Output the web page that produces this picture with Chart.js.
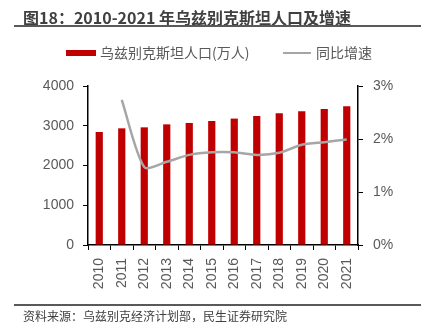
<!DOCTYPE html>
<html>
<head>
<meta charset="utf-8">
<script src="https://cdn.jsdelivr.net/npm/chart.js@4"></script>
<style>
body{margin:0;background:#fff;}
#wrap{position:relative;width:427px;height:334px;overflow:hidden;font-family:"Noto Sans CJK SC",sans-serif;}
#chart{position:absolute;left:0;top:0;}
.title{position:absolute;left:23px;top:6px;font-size:16px;font-weight:bold;color:#404040;white-space:nowrap;line-height:22px;}
.rule{position:absolute;left:14px;width:407px;height:1.5px;background:#595959;}
.legend{position:absolute;top:43px;font-size:14px;color:#595959;white-space:nowrap;line-height:18px;}
.src{position:absolute;left:23px;top:307px;font-size:12px;color:#404040;white-space:nowrap;line-height:18px;}
</style>
</head>
<body>
<div id="wrap">
  <canvas id="chart" width="427" height="334"></canvas>
  <div class="title">图18：2010-2021 年乌兹别克斯坦人口及增速</div>
  <div class="rule" style="top:25px"></div>
  <div class="legend" style="left:66px"><span style="display:inline-block;width:30px;height:6px;background:#c00000;vertical-align:middle;margin-right:4px;position:relative;top:-1px"></span>乌兹别克斯坦人口(万人)</div>
  <div class="legend" style="left:283px"><span style="display:inline-block;width:28px;height:2px;background:#a6a6a6;vertical-align:middle;margin-right:5px;position:relative;top:-1px"></span>同比增速</div>
  <div class="rule" style="top:304px"></div>
  <div class="src">资料来源：乌兹别克经济计划部，民生证券研究院</div>
</div>
<script>
var years = ["2010","2011","2012","2013","2014","2015","2016","2017","2018","2019","2020","2021"]
var population = [2843, 2935, 2960, 3035, 3070, 3120, 3180, 3245, 3313, 3363, 3421, 3489]
var growth = [null, 2.74, 1.47, 1.57, 1.70, 1.75, 1.75, 1.70, 1.74, 1.89, 1.94, 1.99]
var leftTicks = [0, 1000, 2000, 3000, 4000]
var rightTicks = ["0%", "1%", "2%", "3%"]

var tickFont = {family: "'Liberation Sans', Arial, sans-serif", size: 14}
var tickColor = "#595959"

// x labels read bottom-to-top, Chart.js only rotates clockwise so draw them here
var xLabelPlugin = {
  id: "xLabels",
  afterDraw: function(chart){
    var ctx = chart.ctx
    var xs = chart.scales.x
    ctx.save()
    ctx.font = "14px 'Liberation Sans', Arial, sans-serif"
    ctx.fillStyle = tickColor
    ctx.textAlign = "right"
    ctx.textBaseline = "middle"
    for (var i = 0; i < years.length; i++){
      var px = xs.getPixelForValue(i)
      ctx.save()
      ctx.translate(px, xs.top + 13)
      ctx.rotate(-Math.PI / 2)
      ctx.fillText(years[i], 0, 0)
      ctx.restore()
    }
    ctx.restore()
  }
}

var myChart = new Chart(document.getElementById("chart"), {
  type: "bar",
  data: {
    labels: years,
    datasets: [
      {
        type: "line",
        label: "同比增速",
        data: growth,
        yAxisID: "y1",
        borderColor: "#a6a6a6",
        borderWidth: 2.5,
        pointRadius: 0,
        tension: 0.25,
        fill: false,
        order: 0
      },
      {
        label: "乌兹别克斯坦人口(万人)",
        data: population,
        yAxisID: "y",
        backgroundColor: "#c00000",
        barPercentage: 0.32,
        categoryPercentage: 1,
        order: 1
      }
    ]
  },
  plugins: [xLabelPlugin],
  options: {
    responsive: false,
    animation: false,
    events: [],
    layout: {padding: {top: 86, left: 0, right: 0, bottom: 0}},
    plugins: {legend: {display: false}, tooltip: {enabled: false}},
    scales: {
      x: {
        offset: true,
        grid: {offset: true, drawOnChartArea: false, drawTicks: true, tickLength: 5, color: "#000"},
        border: {display: true, color: "#000", width: 1.5},
        ticks: {display: false},
        afterFit: function(s){ s.height = 89 }
      },
      y: {
        position: "left",
        min: 0,
        max: 4000,
        afterBuildTicks: function(s){ s.ticks = leftTicks.map(function(v){ return {value: v} }) },
        grid: {drawOnChartArea: false, drawTicks: true, tickLength: 5, color: "#000"},
        border: {display: true, color: "#000", width: 1.5},
        ticks: {font: tickFont, color: tickColor, padding: 9, callback: function(v){ return String(v) }},
        afterFit: function(s){ s.width = 88 }
      },
      y1: {
        position: "right",
        min: 0,
        max: 3,
        afterBuildTicks: function(s){ s.ticks = [0, 1, 2, 3].map(function(v){ return {value: v} }) },
        grid: {drawOnChartArea: false, drawTicks: true, tickLength: 5, color: "#000"},
        border: {display: true, color: "#000", width: 1.5},
        ticks: {font: tickFont, color: tickColor, padding: 10, callback: function(v, i){ return rightTicks[i] }},
        afterFit: function(s){ s.width = 69 }
      }
    }
  }
})
</script>
</body>
</html>
